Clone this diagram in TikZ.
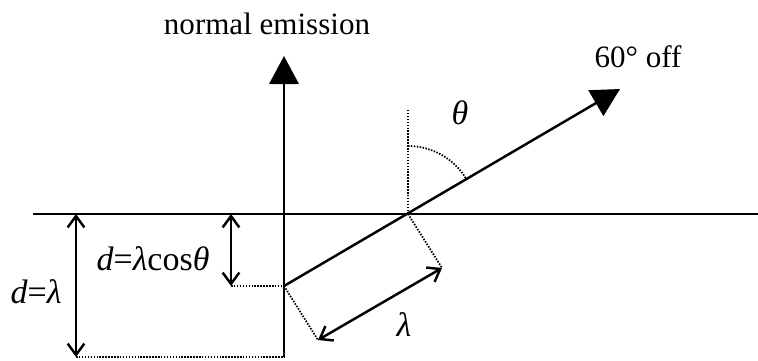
\documentclass[tikz,border=0pt]{standalone}
\usepackage{fontspec}
\setmainfont{Liberation Serif}
\usetikzlibrary{arrows.meta,calc}

\begin{document}
\begin{tikzpicture}[x=0.03cm, y=-0.03cm,
  every node/.style={font=\fontsize{26.5}{30}\selectfont, inner sep=0pt},
  mathlab/.style={font=\fontsize{29}{32}\selectfont},
  solidline/.style={line width=2.1pt},
  dotline/.style={line width=1.5pt, dash pattern=on 1.3pt off 1.2pt},
  beam/.style={solidline, -{Triangle[length=0.84cm, width=0.88cm]}},
  dimarrow/.style={solidline, {Straight Barb[length=0.34cm, width=0.5cm]}-{Straight Barb[length=0.34cm, width=0.5cm]}}]
\useasboundingbox (0,0) rectangle (758,360);
% points of the geometry
\coordinate (sleft) at (33,214);
\coordinate (sright) at (758,214);
\coordinate (base) at (284,357);
\coordinate (normtip) at (284,56);
\coordinate (P) at (284,286);
\coordinate (O) at (408,214);
\coordinate (offtip) at (620,89);
\coordinate (Otop) at (408,109);
\coordinate (Q1) at (318,340);
\coordinate (Q2) at (442,268);
\coordinate (dl) at (76,214);
\coordinate (dlb) at (76,357);
\coordinate (dc) at (231,214);
\coordinate (dcb) at (231,286);
% labels
\node (normlab) at (267,24) {normal emission};
\node (offlab) at (638,57) {60° off};
\node[mathlab] (thetalab) at (460,113) {\textit{θ}};
\node[mathlab] (lamlab) at (404,325) {\textit{λ}};
\node[mathlab] (dlam) at (36,292) {\textit{d}=\textit{λ}};
\node[mathlab] (dcos) at (153,259) {\textit{d}=\textit{λ}cos\textit{θ}};
% surface and beams
\draw[solidline] (sleft) -- (sright);
\draw[beam] (base) -- (normtip);
\draw[beam] (P) -- (offtip);
% angle
\draw[dotline] (O) -- (Otop);
\draw[dotline] (408,146) arc[start angle=-90, end angle=-30, radius=68];
% wavelength
\draw[dotline] (P) -- (Q1);
\draw[dotline] (O) -- (Q2);
\draw[dimarrow] (Q1) -- (Q2);
% depths
\draw[dimarrow] (dl) -- (dlb);
\draw[dotline] (dlb) -- (base);
\draw[dimarrow] (dc) -- (dcb);
\draw[dotline] (dcb) -- (P);
\end{tikzpicture}
\end{document}
